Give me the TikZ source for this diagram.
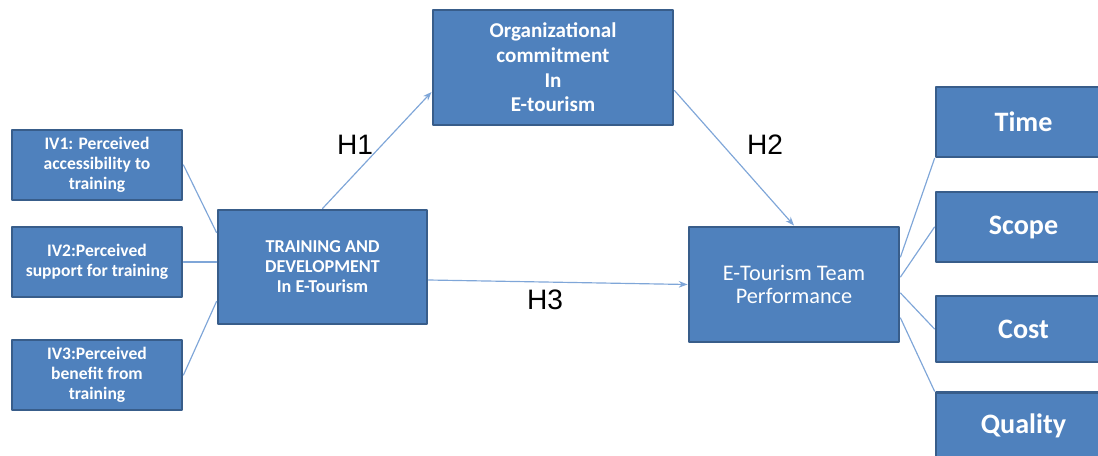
\documentclass[tikz,border=0pt]{standalone}
\usepackage{fontspec}
\setmainfont{Carlito}
\newfontfamily\hfont{Liberation Sans}
\usepackage{tikz}
\usetikzlibrary{arrows.meta}
\definecolor{boxblue}{HTML}{4F81BD}
\definecolor{boxedge}{HTML}{385D8A}
\definecolor{linkblue}{HTML}{7FA6D8}
\tikzset{
  every picture/.style={line join=round, line cap=round, >=Stealth},
  box/.style={draw=boxedge, line width=2.5pt, fill=boxblue, text=white, align=center, inner sep=2pt},
  ivbox/.style={box, minimum width=5.1cm, minimum height=2.1cm, font=\bfseries\fontsize{15}{17}\selectfont},
  dimbox/.style={box, minimum width=5.25cm, minimum height=2.1cm, font=\bfseries\fontsize{24}{26}\selectfont},
  link/.style={linkblue, line width=1pt},
  hyp/.style={font=\hfont\fontsize{24}{26}\selectfont},
}

\begin{document}
\begin{tikzpicture}
\useasboundingbox (0,0) rectangle (32.940,13.650);
\node[ivbox] (iv1) at (2.910,8.700) {IV1: Perceived\\accessibility to\\training};
\node[ivbox] (iv2) at (2.910,5.790) {IV2:Perceived\\support for training};
\node[ivbox] (iv3) at (2.910,2.400) {IV3:Perceived\\benefit from\\training};
\node[box,minimum width=6.270cm,minimum height=3.420cm,font=\bfseries\fontsize{15.5}{17}\selectfont] (td) at (9.675,5.640) {TRAINING AND\\DEVELOPMENT\\In E-Tourism};
\node[box,minimum width=7.200cm,minimum height=3.450cm,font=\bfseries\fontsize{18}{21}\selectfont] (org) at (16.590,11.625) {Organizational\\commitment\\In\\E-tourism};
\node[box,minimum width=6.300cm,minimum height=3.450cm,font=\fontsize{19}{20}\selectfont] (etp) at (23.820,5.115) {E-Tourism Team\\Performance};
\node[dimbox] (time) at (30.705,9.990) {Time};
\node[dimbox] (scope) at (30.705,6.840) {Scope};
\node[dimbox,minimum height=1.980cm] (cost) at (30.705,3.780) {Cost};
\node[dimbox,minimum height=2.000cm] (quality) at (30.705,0.870) {Quality};
\draw[link] (iv1.east) -- (td.162);
\draw[link] (iv2.east) -- (iv2.east -| td.west);
\draw[link] (iv3.east) -- (td.198);
\draw[link,->] (td.north) -- ([yshift=-0.735cm]org.west);
\draw[link,->] ([yshift=-0.690cm]org.east) -- (etp.north);
\draw[link,->] ([yshift=-0.390cm]td.east) -- (etp.west);
\draw[link] ([yshift=0.825cm]etp.east) -- (time.south west);
\draw[link] ([yshift=0.225cm]etp.east) -- (scope.west);
\draw[link] ([yshift=-0.255cm]etp.east) -- (cost.west);
\draw[link] ([yshift=-1.005cm]etp.east) -- (quality.north west);
\node[hyp] (h1) at (10.650,9.300) {H1};
\node[hyp] (h2) at (22.950,9.300) {H2};
\node[hyp] (h3) at (16.350,4.650) {H3};
\end{tikzpicture}
\end{document}
